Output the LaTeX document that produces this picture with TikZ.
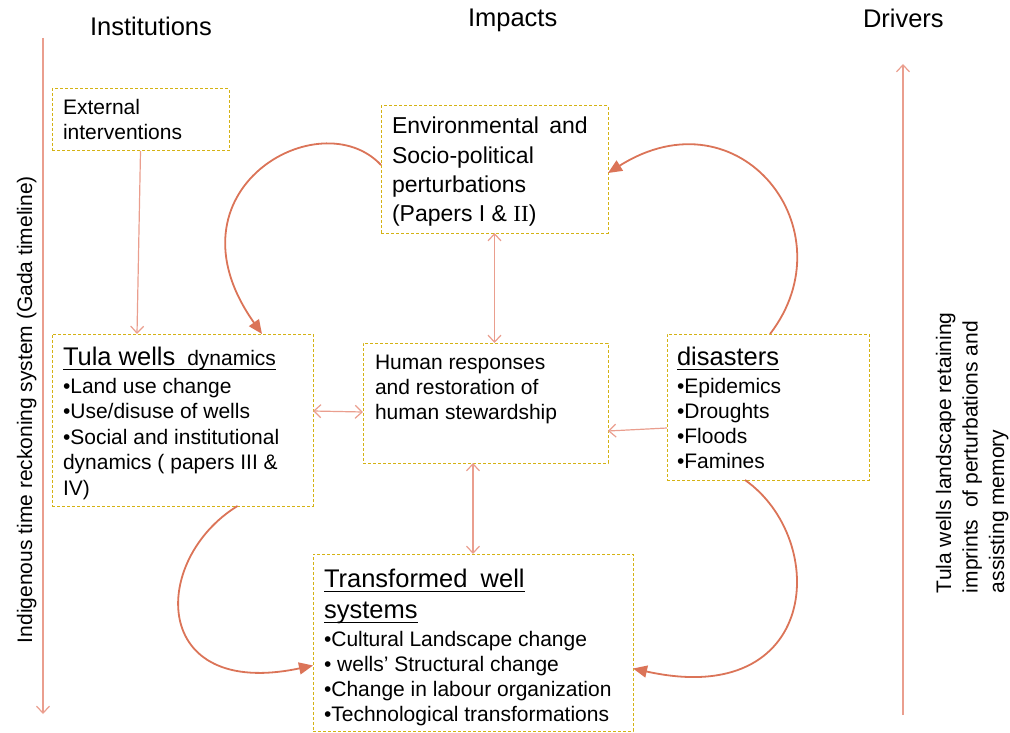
\documentclass[tikz,border=0pt]{standalone}
\usepackage{fontspec}
\setmainfont{Liberation Sans}
\newfontfamily\serifroman{Liberation Serif}
\usetikzlibrary{arrows.meta}
\definecolor{boxc}{RGB}{212,178,20}
\definecolor{thinc}{RGB}{234,158,142}
\definecolor{curvec}{RGB}{219,116,88}
\newcommand\myul[1]{\leavevmode\setbox0\hbox{#1}\rlap{\rule[-5pt]{\wd0}{1.5pt}}\box0}
\newcommand\bodyfont{\fontsize{21}{25.5}\selectfont}
\newcommand\titlefont{\fontsize{25.5}{31}\selectfont}
\tikzset{
  box/.style={draw=boxc, line width=1pt, dash pattern=on 3pt off 2pt, inner sep=0pt, outer sep=0pt, anchor=center},
  txt/.style={inner sep=0pt, outer sep=0pt, anchor=base west, text=black},
  conn/.style={draw=thinc, line width=1.2pt, >={Straight Barb[length=7pt,width=13pt]}},
  curve/.style={draw=curvec, line width=1.8pt, -{Triangle[length=14pt,width=12pt]}}
}
\begin{document}
\begin{tikzpicture}[x=1pt,y=-1pt]
\useasboundingbox (0,0) rectangle (1010,733);

% headers
\node[txt, font=\titlefont] (hInst) at (90,36) {Institutions};
\node[txt, font=\titlefont] (hImp) at (468,27) {Impacts};
\node[txt, font=\titlefont] (hDrv) at (863,28) {Drivers};

% axes
\coordinate (lt) at (43,38);
\coordinate (lb) at (43,714);
\draw[conn,->] (lt) -- (lb);
\coordinate (rb) at (903,715);
\coordinate (rt) at (903,64);
\draw[conn,->] (rb) -- (rt);

\node[txt, rotate=90] (leftT) at (32,643) {\bodyfont Indigenous time reckoning system (Gada timeline)};
\node[txt, rotate=90] (rightA) at (951,593) {\bodyfont Tula wells landscape retaining};
\node[txt, rotate=90] (rightB) at (977.5,593) {\bodyfont imprints\ \ of perturbations and};
\node[txt, rotate=90] (rightC) at (1004,593) {\bodyfont assisting memory};

% boxes
\node[box, minimum width=177pt, minimum height=62pt] (ext) at (140.5,120) {};
\node[box, minimum width=227pt, minimum height=127pt] (env) at (494.5,169.5) {};
\node[box, minimum width=261pt, minimum height=172pt] (tula) at (182.5,420) {};
\node[box, minimum width=245pt, minimum height=120pt] (hum) at (485.5,403) {};
\node[box, minimum width=202pt, minimum height=146pt] (dis) at (768,407) {};
\node[box, minimum width=320pt, minimum height=177pt] (trans) at (473,642.5) {};

% texts
\node[txt] (extT) at (63,115) {\parbox[t]{170pt}{\fontsize{21}{25}\selectfont External\\interventions}};
\node[txt] (envT) at (392,134) {\parbox[t]{215pt}{\fontsize{23}{29.3}\selectfont Environmental\hspace{4pt} and\\Socio-political\\perturbations\\(Papers I \& {\serifroman II})}};
\node[txt] (tulaT) at (63,365) {\parbox[t]{255pt}{\bodyfont \myul{{\titlefont Tula wells}\hspace{6pt} dynamics}\\[2.5pt]
  •Land use change\\
  •Use/disuse of wells\\
  •Social and institutional\\
  dynamics ( papers III \&\\
  IV)}};
\node[txt] (humT) at (375,369) {\parbox[t]{230pt}{\fontsize{21}{25}\selectfont Human responses\\and restoration of\\human stewardship}};
\node[txt] (disT) at (677,365) {\parbox[t]{190pt}{\fontsize{21}{25}\selectfont \myul{\titlefont disasters}\\[3pt]
  •Epidemics\\
  •Droughts\\
  •Floods\\
  •Famines}};
\node[txt] (transT) at (324,587) {\parbox[t]{305pt}{\fontsize{21}{25}\selectfont \myul{\titlefont Transformed\hspace{6pt} well}\\[6pt]
  \myul{\titlefont systems}\\[3pt]
  •Cultural Landscape change\\
  • wells’ Structural change\\
  •Change in labour organization\\
  •Technological transformations}};

% straight connectors
\draw[conn,->] (ext.south) -- ([xshift=-45.5pt]tula.north);
\draw[conn,<->] (env.south) -- (env.south |- hum.north);
\draw[conn,<->] (trans.north |- hum.south) -- (trans.north);
\draw[conn,<->] ([yshift=9pt]tula.east) -- ([yshift=-9pt]hum.west);
\draw[conn,->] ([yshift=-21pt]dis.west) -- ([yshift=-28pt]hum.east);

% curved connectors
\draw[curve] ([yshift=4.5pt]env.west) .. controls (320,100) and (160,190) .. ([xshift=79.5pt]tula.north);
\draw[curve] ([xshift=2pt]dis.north) .. controls (850,230) and (740,90) .. ([yshift=-3.5pt]env.east);
\draw[curve] ([xshift=55pt]tula.south) .. controls (150,560) and (150,700) .. ([yshift=-23pt]trans.west);
\draw[curve] ([xshift=-23pt]dis.south) .. controls (830,540) and (820,710) .. ([yshift=-26pt]trans.east);
\end{tikzpicture}
\end{document}
